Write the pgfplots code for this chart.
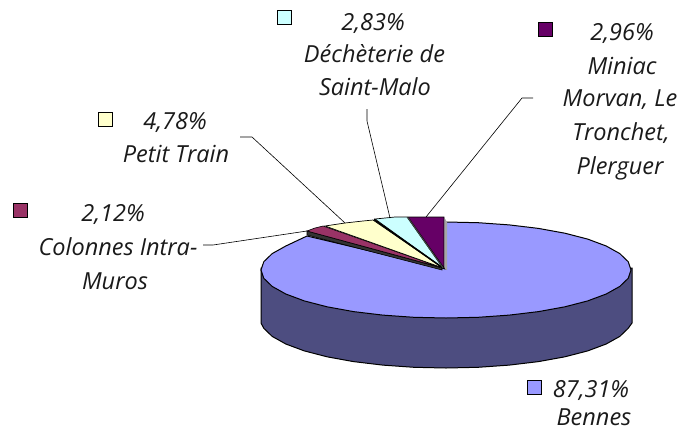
\documentclass[border=0pt]{standalone}
\usepackage{pgfplots}
\pgfplotsset{compat=1.18}
\usepackage{fontspec}
\setmainfont{Open Sans}
\definecolor{cBlue}{HTML}{9999FF}
\definecolor{cWall}{HTML}{4D4D80}
\definecolor{cYel}{HTML}{FFFFCC}
\definecolor{cCyan}{HTML}{CCFFFF}
\definecolor{cMag}{HTML}{993366}
\definecolor{cPur}{HTML}{660066}
\definecolor{cTxt}{HTML}{1A1A1A}
\newcommand{\lab}[3]{\node[anchor=center,inner sep=0pt,text=cTxt,font=\fontsize{23.5}{28}\selectfont\itshape] at (axis cs:#1,#2) {#3};}
\begin{document}
\begin{tikzpicture}
\begin{axis}[
  width=682pt,height=434pt,scale only axis,
  xmin=0,xmax=682,ymin=0,ymax=434,y dir=reverse,
  hide axis,clip=false]
\path (axis cs:0,0) rectangle (axis cs:682,434);
% wall
\addplot[fill=cWall,draw=black,line width=1pt] coordinates {
(261,268)(261,323)(263.8,328.3)(272.2,336.4)(285.8,344)(304.3,350.9)(327.1,356.8)(353.5,361.6)(382.7,365.1)(413.9,367.3)(446,368)
(478.1,367.3)(509.3,365.1)(538.5,361.6)(564.9,356.8)(587.7,350.9)(606.2,344)(619.8,336.4)(628.2,328.3)(632,323)(632,268)} -- cycle;
% Bennes
\addplot[fill=cBlue,draw=black,line width=1pt] coordinates {
(446,269)(446,222)(478.1,222.7)(509.3,224.9)(538.5,228.4)(564.9,233.2)(587.7,239.1)(606.2,246)(619.8,253.6)(628.2,261.7)(631,270)
(628.2,278.3)(619.8,286.4)(606.2,294)(587.7,300.9)(564.9,306.8)(538.5,311.6)(509.3,315.1)(478.1,317.3)(446,318)
(413.9,317.3)(382.7,315.1)(353.5,311.6)(327.1,306.8)(304.3,300.9)(285.8,294)(272.2,286.4)(263.8,278.3)(261,270)
(263.8,261.7)(272.2,253.6)(285.8,246)(307,236)} -- cycle;
% gray edge
\addplot[fill=gray!70,draw=none] coordinates {(444.5,218)(447,222)(447,270)(444.5,269)} -- cycle;
% Colonnes wall
\addplot[fill=black!80,draw=black,line width=0.6pt] coordinates {(307,231)(307,235)(442,270)(442,268)} -- cycle;
% Colonnes
\addplot[fill=cMag,draw=black,line width=0.6pt] coordinates {(443,268)(323,226)(315,228)(307,231)} -- cycle;
% Petit Train
\addplot[fill=cYel,draw=black,line width=0.7pt] coordinates {(443,268)(373,220)(363,221)(345,223)(325,226)} -- cycle;
% Dechetterie
\addplot[fill=cCyan,draw=black,line width=0.7pt] coordinates {(443,268)(407,217)(395,217)(375,219)} -- cycle;
% Miniac
\addplot[fill=cPur,draw=black,line width=0.7pt] coordinates {(444,268)(444,217)(408,217)} -- cycle;
% thick separators
\addplot[black,line width=1.5pt] coordinates {(374,219.5)(443,268)};
\addplot[black!75,line width=1pt] coordinates {(407.5,217)(443,268)};
% leaders
\addplot[black,line width=0.6pt] coordinates {(203,245)(213,245)(307,231)};
\addplot[black,line width=0.6pt] coordinates {(240,137)(252,137)(345,223)};
\addplot[black,line width=0.6pt] coordinates {(367,109)(367,121)(390,218)};
\addplot[black,line width=0.6pt] coordinates {(533,98)(522,98)(426,217)};
% legend keys
\addplot[only marks,mark=square*,mark size=7pt,mark options={fill=cCyan,draw=black,line width=0.9pt}] coordinates {(284.5,17.5)};
\addplot[only marks,mark=square*,mark size=7pt,mark options={fill=cYel,draw=black,line width=0.9pt}] coordinates {(105,119.5)};
\addplot[only marks,mark=square*,mark size=7pt,mark options={fill=cMag,draw=black,line width=0.9pt}] coordinates {(20.5,210)};
\addplot[only marks,mark=square*,mark size=7pt,mark options={fill=cPur,draw=black,line width=0.9pt}] coordinates {(545,29.5)};
\addplot[only marks,mark=square*,mark size=7pt,mark options={fill=cBlue,draw=black,line width=0.9pt}] coordinates {(534,387)};
% labels
\lab{373}{23}{2,83\%}
\lab{374.5}{54}{Déchèterie de}
\lab{375}{87}{Saint-Malo}
\lab{622}{34}{2,96\%}
\lab{622}{66}{Miniac}
\lab{620}{100}{Morvan, Le}
\lab{621}{133}{Tronchet,}
\lab{620}{168}{Plerguer}
\lab{175}{122}{4,78\%}
\lab{176}{154}{Petit Train}
\lab{113}{215}{2,12\%}
\lab{118}{247}{Colonnes Intra-}
\lab{115}{281}{Muros}
\lab{591}{390}{87,31\%}
\lab{594}{417}{Bennes}
\end{axis}
\end{tikzpicture}
\end{document}
